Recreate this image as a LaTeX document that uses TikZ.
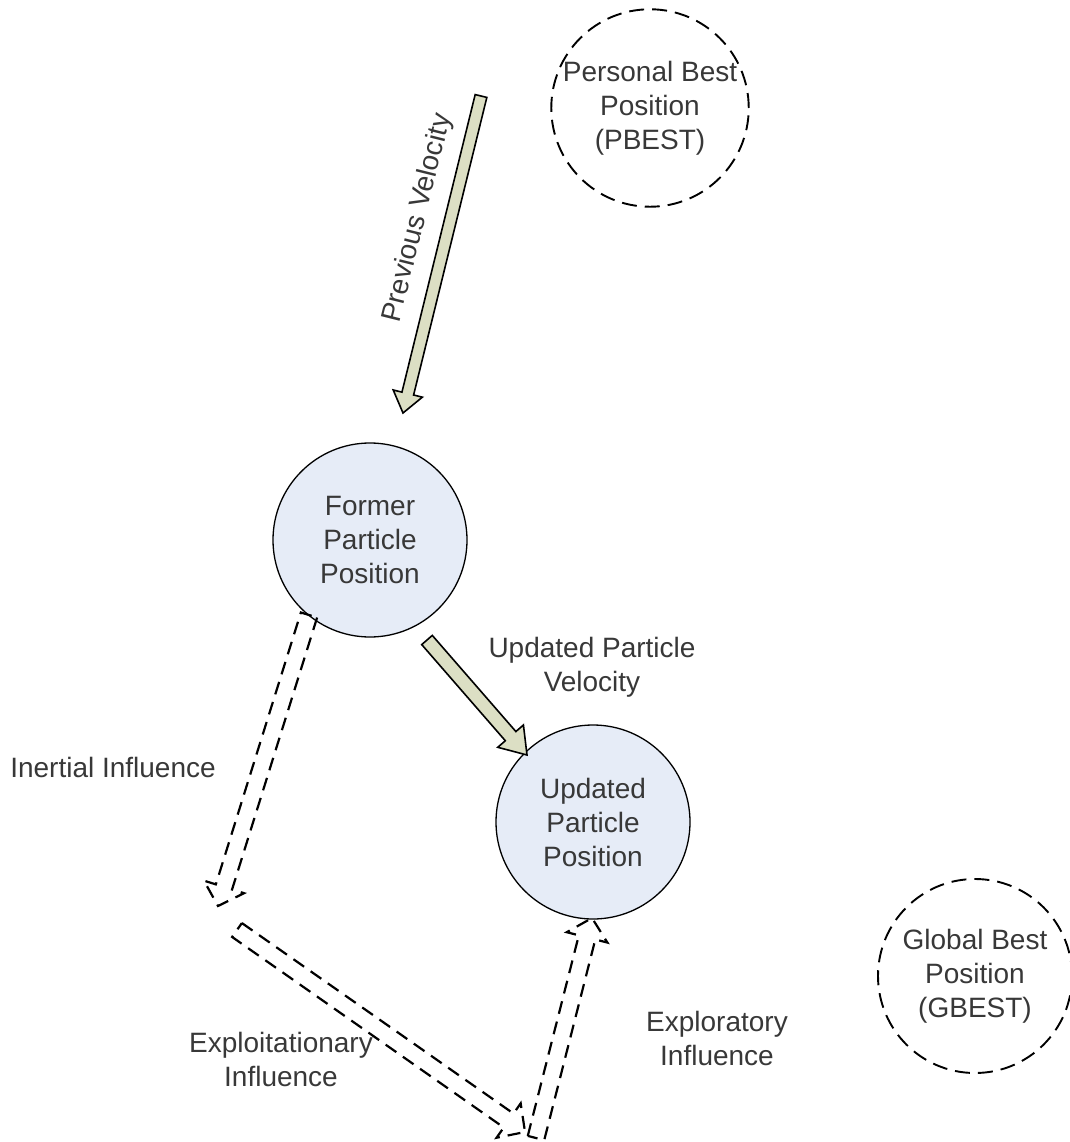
\documentclass[tikz,border=0pt]{standalone}
\usepackage{fontspec}
\setmainfont{Liberation Sans}
\usetikzlibrary{calc}

\definecolor{bubblefill}{HTML}{E6ECF7}
\definecolor{velofill}{HTML}{DCDFC4}
\definecolor{labelgray}{HTML}{383838}

% Block arrow between two named points:
% #1 style, #2 tail, #3 tip, #4 shaft half-width, #5 head half-width, #6 head length
\newcommand{\blockarrow}[6]{%
  \coordinate (#2#3h) at ($(#3)!#6!(#2)$);
  \draw[#1] ($(#2)!#4!90:(#3)$) -- ($(#2#3h)!#4!90:(#3)$)
    -- ($(#2#3h)!#5!90:(#3)$) -- (#3)
    -- ($(#2#3h)!#5!-90:(#3)$) -- ($(#2#3h)!#4!-90:(#3)$)
    -- ($(#2)!#4!-90:(#3)$) -- cycle;}

\begin{document}
\begin{tikzpicture}[x=1pt,y=-1pt,
  txt/.style={font=\fontsize{28}{34}\selectfont, text=labelgray, align=center, inner sep=0pt},
  particle/.style={circle, draw=black, line width=1.3pt, fill=bubblefill, minimum size=194pt, inner sep=0pt, txt},
  bestpos/.style={circle, draw=black, line width=1.9pt, dash pattern=on 15pt off 8pt, minimum size=194pt, inner sep=0pt, txt},
  velarrow/.style={draw=black, line width=1.6pt, fill=velofill, line join=miter},
  influence/.style={draw=black, line width=2.2pt, dash pattern=on 13pt off 8pt, line join=miter}]

\useasboundingbox (0,0) rectangle (1069,1142);

% particle positions and best positions
\node[particle] (former) at (370,540) {Former\\Particle\\Position};
\node[particle] (updated) at (593,822) {Updated\\Particle\\Position};
\node[bestpos] (pbest) at (650,108) {Personal Best\\Position\\(PBEST)};
\node[bestpos] (gbest) at (975,976) {Global Best\\Position\\(GBEST)};

% arrow end points
\coordinate (pvA) at (481,96);
\coordinate (pvB) at (403,413);
\coordinate (uvA) at (427,640);
\coordinate (uvB) at (527,755);
\coordinate (inA) at (309,615);
\coordinate (inB) at (218,906);
\coordinate (exA) at (237,930);
\coordinate (exB) at (525,1132);
\coordinate (orA) at (536,1138);
\coordinate (orB) at (592,918);

% velocity arrows
\blockarrow{velarrow}{pvA}{pvB}{6pt}{15pt}{20pt}
\blockarrow{velarrow}{uvA}{uvB}{7pt}{17pt}{25pt}

% influence arrows
\blockarrow{influence}{inA}{inB}{8.5pt}{21pt}{20pt}
\blockarrow{influence}{exA}{exB}{8.5pt}{21pt}{20pt}
\blockarrow{influence}{orA}{orB}{8.5pt}{21pt}{20pt}

% labels
\node[txt, rotate=76] (pvlabel) at (418,218) {Previous Velocity};
\node[txt] (uvlabel) at (592,667) {Updated Particle\\Velocity};
\node[txt] (inlabel) at (113,767) {Inertial Influence};
\node[txt] (exlabel) at (281,1059) {Exploitationary\\Influence};
\node[txt] (orlabel) at (717,1038) {Exploratory\\Influence};

\end{tikzpicture}
\end{document}
